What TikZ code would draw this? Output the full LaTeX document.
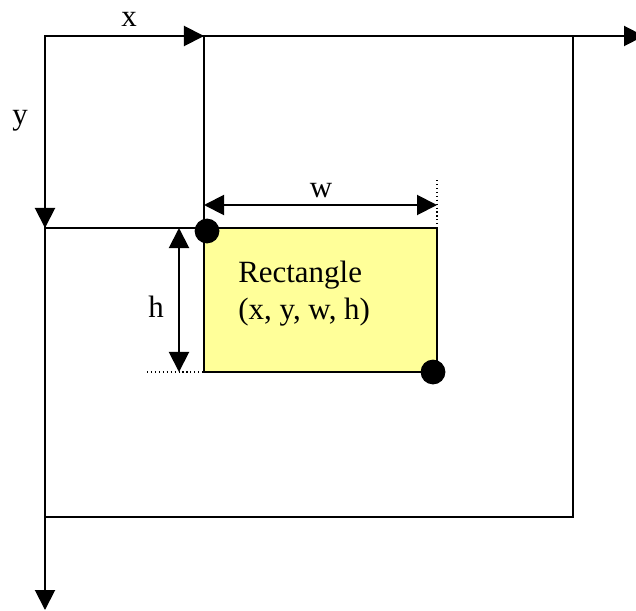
\documentclass[tikz,border=0pt]{standalone}
\usepackage{fontspec}
\setmainfont{Liberation Serif}
\usepackage{tikz}
\usetikzlibrary{arrows.meta}
\definecolor{rectyellow}{HTML}{FFFF99}

\tikzset{
  frameline/.style={line width=1.1pt},
  axisarrow/.style={line width=1.4pt,-{Triangle[length=0.5cm,width=0.5cm]}},
  measure/.style={line width=1.4pt,{Triangle[length=0.5cm,width=0.5cm]}-{Triangle[length=0.5cm,width=0.5cm]}},
  guide/.style={dotted,line width=0.8pt},
  lbl/.style={inner sep=0pt,font=\fontsize{22}{26}\selectfont}
}

\begin{document}
\begin{tikzpicture}[x=0.025cm,y=-0.025cm]
  \useasboundingbox (0,0) rectangle (636,610);
  \coordinate (O) at (45,36);
  \coordinate (TL) at (204,228);
  \coordinate (BR) at (437,372);
  \coordinate (far) at (573,517);
  % outer window and guides
  \draw[frameline] (O) rectangle (far);
  \draw[frameline] (O -| TL) -- (TL |- BR);
  \draw[frameline] (O |- TL) -- (TL -| BR);
  \fill[rectyellow] (TL) rectangle (BR);
  \draw[frameline] (TL) rectangle (BR);
  % axes
  \draw[axisarrow] (O) -- (644,36);
  \draw[axisarrow] (O) -- (45,610);
  \draw[axisarrow] (O) -- (O -| TL);
  \draw[axisarrow] (O) -- (O |- TL);
  \node[lbl,anchor=base] (xlabel) at (129,27) {x};
  \node[lbl,anchor=base] (ylabel) at (20,124) {y};
  % width and height
  \draw[guide] (437,180) -- (TL -| BR);
  \draw[guide] (147,372) -- (TL |- BR);
  \draw[measure] (204,205) -- (437,205);
  \draw[measure] (179,228) -- (179,372);
  \node[lbl,anchor=base] (wlabel) at (321,197) {w};
  \node[lbl,anchor=base] (hlabel) at (156,317) {h};
  \node[lbl,anchor=north west,align=left] (rectlabel) at (238,261) {Rectangle\\(x, y, w, h)};
  % corner points
  \fill ([shift={(3,3)}]TL) circle (0.31cm);
  \fill ([shift={(-4,0)}]BR) circle (0.31cm);
\end{tikzpicture}
\end{document}
